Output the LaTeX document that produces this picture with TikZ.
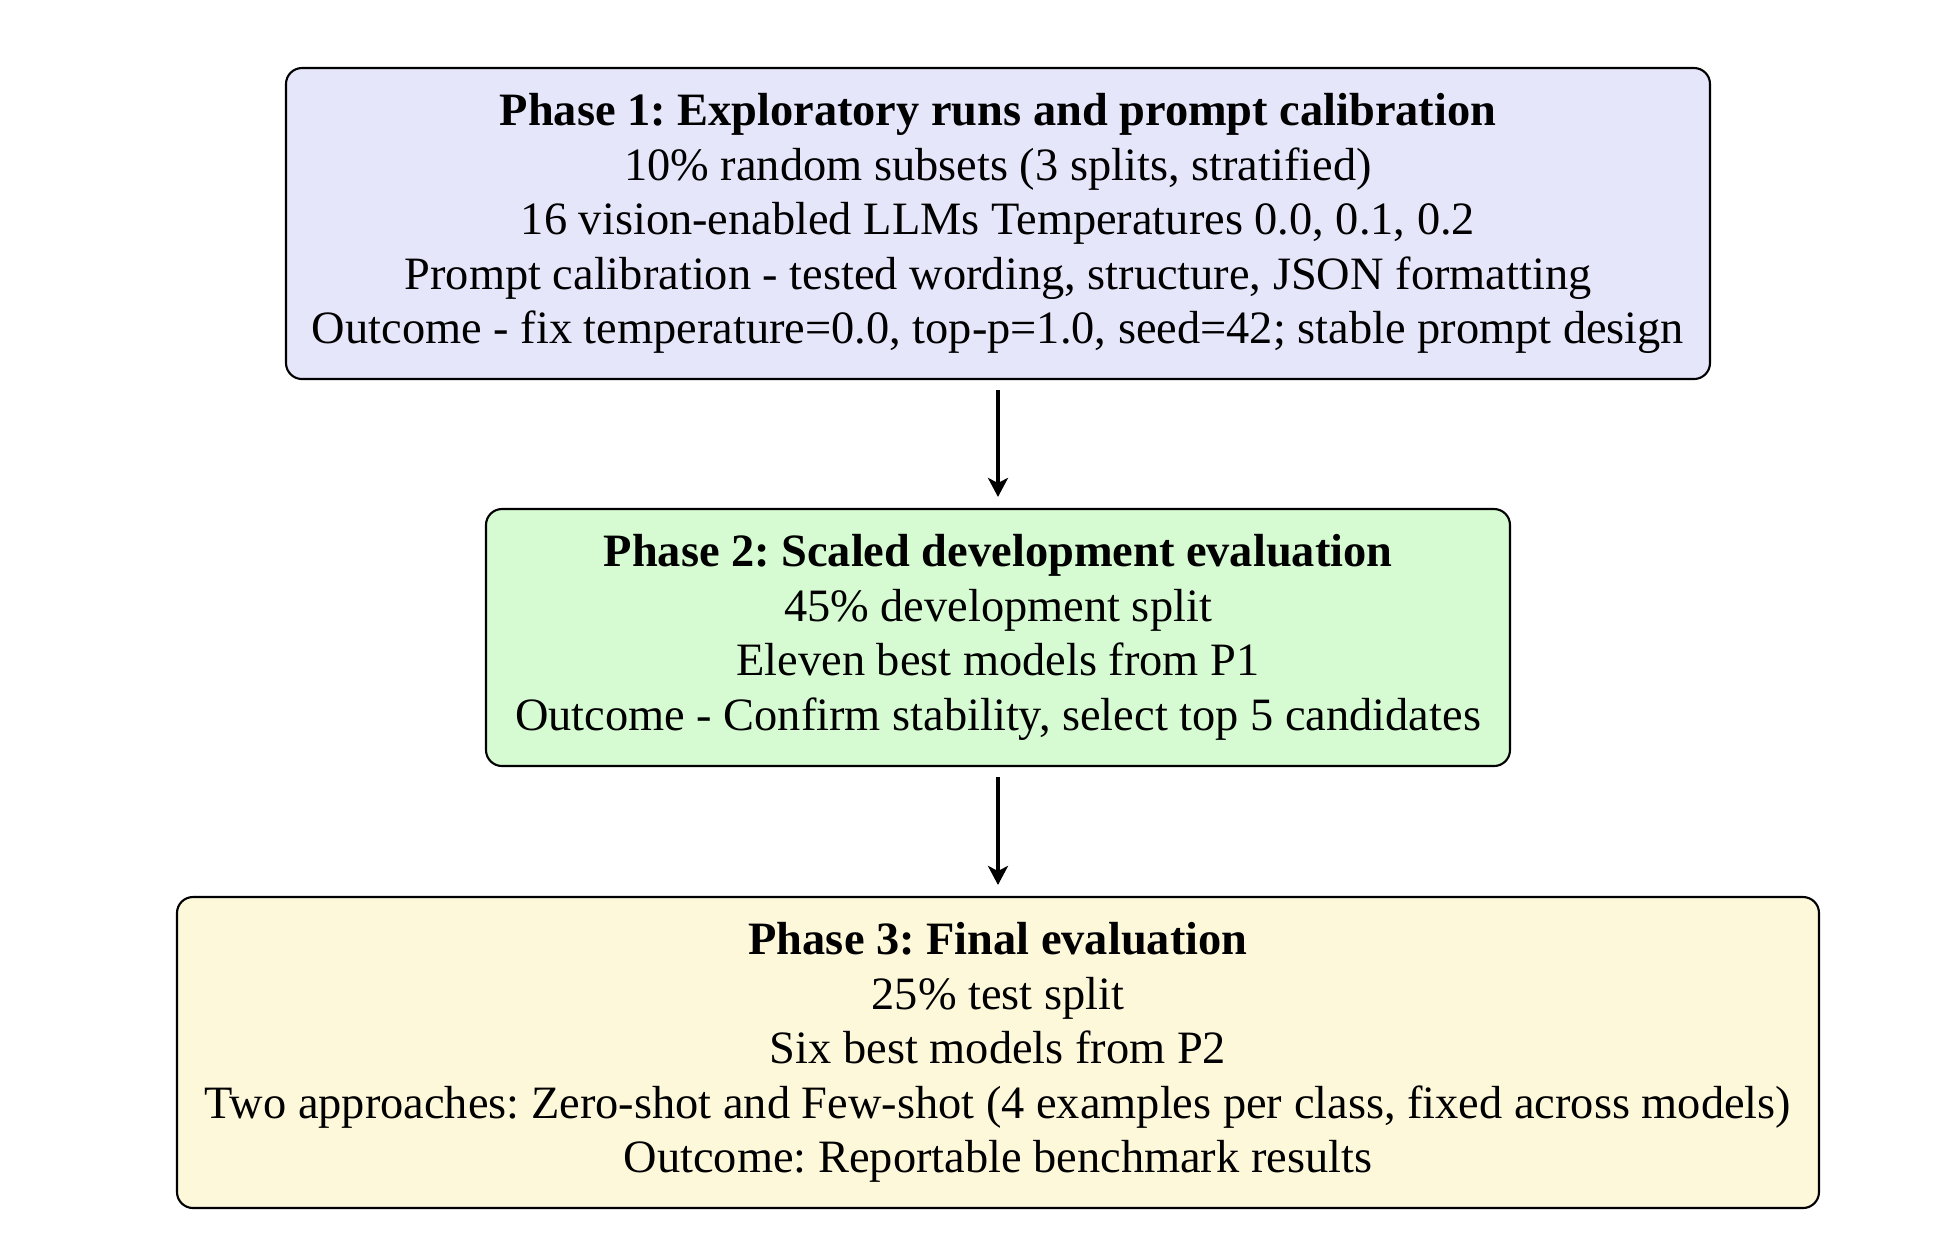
\documentclass[tikz,border=0pt]{standalone}
\usepackage{fontspec}
\setmainfont{Liberation Serif}
\usetikzlibrary{arrows.meta}
\definecolor{pone}{HTML}{E6E6FA}
\definecolor{ptwo}{HTML}{D6FAD1}
\definecolor{pthree}{HTML}{FEF8DB}
\frenchspacing
\tikzset{
  phasebox/.style={draw=black, line width=0.6pt, rounded corners=0.16cm, align=center,
    inner sep=0pt, font=\fontsize{13.2}{15.5}\selectfont},
  flowarrow/.style={-{Stealth[length=0.19cm,width=0.2cm,inset=0.05cm]}, line width=0.9pt,
    shorten <=0.1cm, shorten >=0.11cm}
}
\begin{document}
\begin{tikzpicture}
\useasboundingbox (0,0) rectangle (19.5,-12.4);
\node[phasebox, fill=pone, minimum width=14.24cm, minimum height=3.11cm] (p1) at (9.98,-2.235)
  {\textbf{Phase 1: Exploratory runs and prompt calibration}\\
   10\% random subsets (3 splits, stratified)\\
   16 vision-enabled LLMs Temperatures 0.0, 0.1, 0.2\\
   Prompt calibration - tested wording, structure, JSON formatting\\
   Outcome - fix temperature=0.0, top-p=1.0, seed=42; stable prompt design};
\node[phasebox, fill=ptwo, minimum width=10.24cm, minimum height=2.57cm] (p2) at (9.98,-6.375)
  {\textbf{Phase 2: Scaled development evaluation}\\
   45\% development split\\
   Eleven best models from P1\\
   Outcome - Confirm stability, select top 5 candidates};
\node[phasebox, fill=pthree, minimum width=16.42cm, minimum height=3.11cm] (p3) at (9.98,-10.525)
  {\textbf{Phase 3: Final evaluation}\\
   25\% test split\\
   Six best models from P2\\
   Two approaches: Zero-shot and Few-shot (4 examples per class, fixed across models)\\
   Outcome: Reportable benchmark results};
\draw[flowarrow] (p1) -- (p2);
\draw[flowarrow] (p2) -- (p3);
\end{tikzpicture}
\end{document}
